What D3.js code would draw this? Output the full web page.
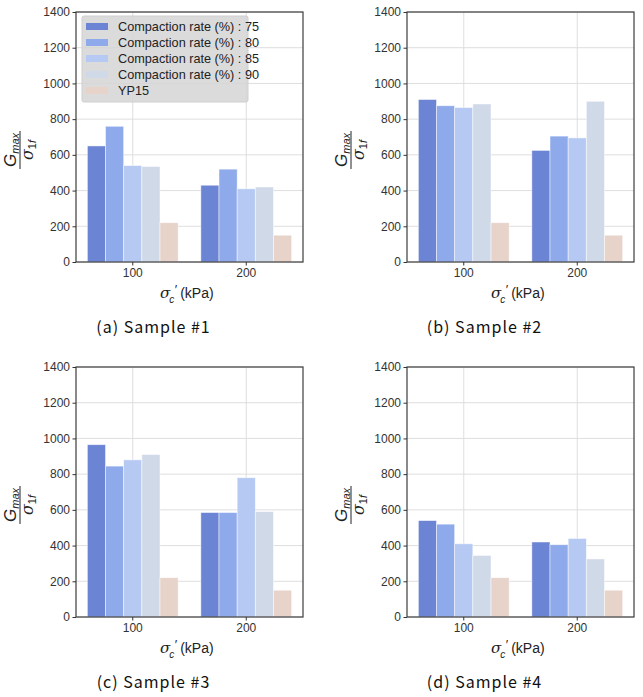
<!DOCTYPE html>
<html>
<head>
<meta charset="utf-8">
<script src="https://cdn.jsdelivr.net/npm/d3@7"></script>
<style>
  body { margin: 0; background: #fff; }
  svg text { font-family: "Liberation Sans", Arial, sans-serif; }
</style>
</head>
<body>
<div id="chart"></div>
<script>

// pressure categories (kPa)
var categories = ["100", "200"];
var seriesNames = ["Compaction rate (%) : 75", "Compaction rate (%) : 80",
    "Compaction rate (%) : 85", "Compaction rate (%) : 90", "YP15"];
var seriesColors = ["#6c84d4", "#8eaaea", "#b5c9f2", "#d0d9e8", "#e7d3ca"];
var yTicks = [0, 200, 400, 600, 800, 1000, 1200, 1400];

// values per series, [100 kPa, 200 kPa]
var sample1 = [[650, 430], [760, 520], [540, 410], [535, 420], [220, 150]];
var sample2 = [[910, 625], [875, 705], [865, 695], [885, 900], [220, 150]];
var sample3 = [[965, 585], [845, 585], [880, 780], [910, 590], [220, 150]];
var sample4 = [[540, 420], [520, 405], [410, 440], [345, 325], [220, 150]];

var captions = ["(a) Sample #1", "(b) Sample #2", "(c) Sample #3", "(d) Sample #4"];

var svg = d3.select("#chart").append("svg")
    .attr("width", 643)
    .attr("height", 697);

var plotW = 227, plotH = 250;

function drawPanel(left, top, values, caption, showLegend) {

    var g = svg.append("g")
        .attr("transform", "translate(" + left + "," + top + ")");

    var x = d3.scaleBand().domain(categories).range([0, plotW]).padding(0);
    var xs = d3.scaleBand().domain(d3.range(seriesNames.length))
        .range([x.bandwidth() * 0.1, x.bandwidth() * 0.9]).padding(0);
    var y = d3.scaleLinear().domain([0, 1400]).range([plotH, 0]);

    // grid
    g.selectAll(".hgrid").data(yTicks).enter().append("line")
        .attr("x1", 0).attr("x2", plotW)
        .attr("y1", function (d) { return y(d); })
        .attr("y2", function (d) { return y(d); })
        .style("stroke", "#dedede").style("stroke-width", 1);
    g.selectAll(".vgrid").data(categories).enter().append("line")
        .attr("y1", 0).attr("y2", plotH)
        .attr("x1", function (d) { return x(d) + x.bandwidth() / 2; })
        .attr("x2", function (d) { return x(d) + x.bandwidth() / 2; })
        .style("stroke", "#dedede").style("stroke-width", 1);

    // bars
    values.forEach(function (vals, s) {
        g.selectAll(".bar" + s).data(vals).enter().append("rect")
            .attr("x", function (d, i) { return x(categories[i]) + xs(s); })
            .attr("width", xs.bandwidth())
            .attr("y", function (d) { return y(d); })
            .attr("height", function (d) { return plotH - y(d); })
            .style("fill", seriesColors[s])
            .style("stroke", "rgba(255,255,255,0.6)")
            .style("stroke-width", 0.8);
    });

    // frame
    g.append("rect")
        .attr("width", plotW).attr("height", plotH)
        .style("fill", "none").style("stroke", "#3c3c3c").style("stroke-width", 1.2);

    var yAxis = d3.axisLeft(y).tickValues(yTicks).tickFormat(d3.format("d"))
        .tickSizeInner(3.5).tickSizeOuter(0).tickPadding(2.5);
    var ya = g.append("g").call(yAxis);
    ya.select(".domain").remove();
    ya.selectAll("text").style("font-size", "12px").style("fill", "#333");
    ya.selectAll("line").style("stroke", "#333");

    var xAxis = d3.axisBottom(x).tickSizeInner(3.5).tickSizeOuter(0).tickPadding(3);
    var xa = g.append("g").attr("transform", "translate(0," + plotH + ")").call(xAxis);
    xa.select(".domain").remove();
    xa.selectAll("text").style("font-size", "12px").style("fill", "#333");
    xa.selectAll("line").style("stroke", "#333");

    // x label: sigma'_c (kPa), one text element
    var xl = g.append("text")
        .attr("x", 84).attr("y", plotH + 36)
        .style("font-size", "14px").style("fill", "#222");
    xl.append("tspan").text("σ")
        .style("font-family", "'DejaVu Serif', serif").style("font-style", "italic")
        .style("font-size", "15px");
    xl.append("tspan").text("c").attr("dx", -1).attr("dy", 5)
        .style("font-style", "italic").style("font-size", "10px");
    xl.append("tspan").text("′").attr("dx", 0.5).attr("dy", -9)
        .style("font-size", "13px");
    xl.append("tspan").text("(kPa)").attr("dx", 3).attr("dy", 4);

    // y label, rotated fraction
    var yl = g.append("g")
        .attr("transform", "translate(-56," + (plotH / 2 + 13) + ") rotate(-90)");
    var num = yl.append("text").attr("x", 0).attr("y", -4).attr("text-anchor", "middle")
        .style("font-size", "17px").style("fill", "#222");
    num.append("tspan").text("G").style("font-style", "italic");
    num.append("tspan").text("max").attr("dy", 3).style("font-size", "11px").style("font-style", "italic");
    yl.append("line").attr("x1", -19).attr("x2", 19).attr("y1", 0).attr("y2", 0)
        .style("stroke", "#222").style("stroke-width", 1);
    var den = yl.append("text").attr("x", 0).attr("y", 13).attr("text-anchor", "middle")
        .style("font-size", "16px").style("fill", "#222");
    den.append("tspan").text("σ").style("font-style", "italic").style("font-family", "DejaVu Serif");
    den.append("tspan").text("1").attr("dy", 3).style("font-size", "11px");
    den.append("tspan").text("f").style("font-size", "11px").style("font-style", "italic");

    // caption
    g.append("text")
        .attr("x", plotW / 2 - 36).attr("y", plotH + 71)
        .attr("text-anchor", "middle")
        .style("font-family", "'Noto Sans CJK KR', sans-serif")
        .style("font-size", "16px").style("letter-spacing", "1px").style("fill", "#111")
        .text(caption);

    if (showLegend) {
        var lg = g.append("g").attr("transform", "translate(6,4)");
        lg.append("rect")
            .attr("width", 166).attr("height", 86).attr("rx", 2)
            .style("fill", "#d5d5d5").style("fill-opacity", 0.85)
            .style("stroke", "#cfcfcf");
        seriesNames.forEach(function (name, i) {
            lg.append("rect")
                .attr("x", 4).attr("y", 7 + i * 16)
                .attr("width", 22).attr("height", 7)
                .style("fill", seriesColors[i]);
            lg.append("text")
                .attr("x", 36).attr("y", 15 + i * 16)
                .style("font-size", "12.7px").style("fill", "#222")
                .text(name);
        });
    }
}

drawPanel(76, 12, sample1, captions[0], true);
drawPanel(407, 12, sample2, captions[1], false);
drawPanel(76, 367, sample3, captions[2], false);
drawPanel(407, 367, sample4, captions[3], false);

</script>
</body>
</html>
